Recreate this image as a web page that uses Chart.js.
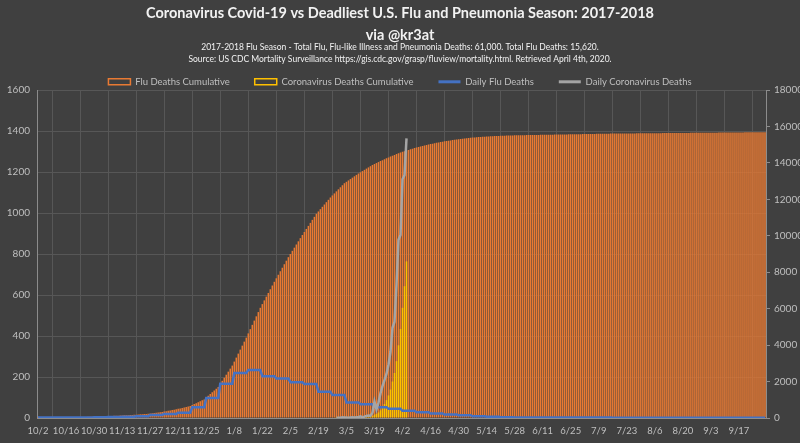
<!DOCTYPE html>
<html>
<head>
<meta charset="utf-8">
<script src="https://cdn.jsdelivr.net/npm/chart.js@4"></script>
<style>
  html, body { margin: 0; padding: 0; background: #404040; }
  #wrap { width: 800px; height: 443px; position: relative; }
</style>
</head>
<body>
<div id="wrap"><canvas id="fluChart"></canvas></div>
<script>
// Season runs 10/2/2017 to 9/30/2018, one category per day
const seasonStart = new Date(2017, 9, 2);
const numDays = 364;
const tickEvery = 14;

// Daily flu deaths, one value per week (step line)
const dailyFluByWeek = [2, 2, 3, 3, 4, 5, 6, 8,
    15, 20, 26, 52, 98, 167, 219, 234,
    204, 193, 174, 166,
    128, 112, 76, 67, 53, 45,
    35, 28, 22, 17, 14, 8, 6, 4,
    2, 2, 2, 2, 2, 2, 2, 1, 1, 1, 1, 1, 1, 1, 1, 1, 1, 1];

// Daily coronavirus deaths (2020), placed on the same calendar days, starting at the 2/28 slot
const covidStartIndex = 149;
const dailyCovid = [1, 1, 1, 4, 3, 2, 1, 3, 4, 3, 4, 4, 8, 3, 7, 10, 12, 11,
    25, 80, 42, 75, 120, 155, 185, 215, 260, 323, 440, 470, 649, 870, 893, 1165, 1185, 1364];

const labels = [];
for (let i = 0; i < numDays; i++) {
    const d = new Date(seasonStart);
    d.setDate(d.getDate() + i);
    labels.push((d.getMonth() + 1) + '/' + d.getDate());
}

// daily series and cumulative (running sum) series
const fluDaily = [];
const fluCumulative = [];
let fluTotal = 0;
for (let i = 0; i < numDays; i++) {
    const v = dailyFluByWeek[Math.floor(i / 7)];
    fluDaily.push(v);
    fluTotal += v;
    fluCumulative.push(fluTotal);
}

const covidDaily = [];
const covidCumulative = [];
let covidTotal = 0;
for (let i = 0; i < numDays; i++) {
    const k = i - covidStartIndex;
    if (k >= 0 && k < dailyCovid.length) {
        covidTotal += dailyCovid[k];
        covidDaily.push(dailyCovid[k]);
        covidCumulative.push(covidTotal);
    } else {
        covidDaily.push(null);
        covidCumulative.push(null);
    }
}

const textColor = '#bfbfbf';
const gridColor = '#575757';
const axisColor = '#8c8c8c';
const fontFamily = "'Lato', sans-serif";

const ctx = document.getElementById('fluChart').getContext('2d');
const fluChart = new Chart(ctx, {
    type: 'bar',
    data: {
        labels: labels,
        datasets: [{
            type: 'bar',
            label: 'Flu Deaths Cumulative',
            data: fluCumulative,
            yAxisID: 'y1',
            backgroundColor: '#E97A33',
            borderWidth: 0,
            barPercentage: 0.75,
            categoryPercentage: 1.0,
            grouped: false,
            order: 4
        }, {
            type: 'bar',
            label: 'Coronavirus Deaths Cumulative',
            data: covidCumulative,
            yAxisID: 'y1',
            backgroundColor: '#FFC000',
            borderWidth: 0,
            barPercentage: 0.75,
            categoryPercentage: 1.0,
            grouped: false,
            order: 3
        }, {
            type: 'line',
            label: 'Daily Flu Deaths',
            data: fluDaily,
            yAxisID: 'y',
            borderColor: '#4472C4',
            backgroundColor: '#4472C4',
            borderWidth: 2.5,
            pointRadius: 0,
            tension: 0,
            order: 2
        }, {
            type: 'line',
            label: 'Daily Coronavirus Deaths',
            data: covidDaily,
            yAxisID: 'y',
            borderColor: '#A5A5A5',
            backgroundColor: '#A5A5A5',
            borderWidth: 2.5,
            pointRadius: 0,
            tension: 0,
            order: 1
        }]
    },
    options: {
        responsive: true,
        maintainAspectRatio: false,
        animation: false,
        layout: { padding: { left: 0, right: 0, top: 0, bottom: 0 } },
        plugins: {
            title: {
                display: true,
                text: ['Coronavirus Covid-19 vs Deadliest U.S. Flu and Pneumonia Season: 2017-2018', 'via @kr3at'],
                color: '#f2f2f2',
                font: { family: fontFamily, size: 14.5, weight: 'bold', lineHeight: 1.52 },
                padding: { top: 2, bottom: -5 }
            },
            subtitle: {
                display: true,
                text: ['2017-2018 Flu Season - Total Flu, Flu-like Illness and Pneumonia Deaths: 61,000. Total Flu Deaths: 15,620.',
                    'Source: US CDC Mortality Surveillance https://gis.cdc.gov/grasp/fluview/mortality.html. Retrieved April 4th, 2020.'],
                color: '#f2f2f2',
                font: { family: fontFamily, size: 8.5, lineHeight: 1.41 },
                padding: { top: 0, bottom: -13 }
            },
            legend: {
                display: true,
                position: 'top',
                maxHeight: 38,
                labels: {
                    color: textColor,
                    font: { family: fontFamily, size: 9.5 },
                    usePointStyle: true,
                    pointStyleWidth: 22,
                    boxHeight: 6,
                    padding: 25,
                    sort: (a, b) => a.datasetIndex - b.datasetIndex,
                    generateLabels: function (chart) {
                        const items = Chart.defaults.plugins.legend.labels.generateLabels(chart);
                        items.forEach(function (item) {
                            const ds = chart.data.datasets[item.datasetIndex];
                            if (ds.type === 'bar') {
                                item.pointStyle = 'rect';
                                item.fillStyle = 'rgba(0,0,0,0)';
                                item.strokeStyle = ds.backgroundColor;
                                item.lineWidth = 1.5;
                            } else {
                                item.pointStyle = 'line';
                                item.strokeStyle = ds.borderColor;
                                item.lineWidth = 3;
                            }
                        });
                        return items;
                    }
                }
            },
            tooltip: { enabled: false }
        },
        scales: {
            x: {
                grid: {
                    color: gridColor,
                    offset: true,
                    drawTicks: false
                },
                border: { color: axisColor },
                ticks: {
                    color: textColor,
                    font: { family: fontFamily, size: 9.5 },
                    autoSkip: false,
                    maxRotation: 0,
                    minRotation: 0,
                    padding: 7,
                    callback: function (value, index) {
                        return index % tickEvery === 0 ? labels[index] : null;
                    }
                },
                afterFit: function (scale) { scale.height = 25; }
            },
            y: {
                position: 'left',
                min: 0,
                max: 1600,
                grid: { color: gridColor, drawTicks: false },
                border: { color: axisColor },
                ticks: {
                    stepSize: 200,
                    color: textColor,
                    font: { family: fontFamily, size: 10 },
                    padding: 7,
                    callback: v => String(v)
                },
                afterFit: function (scale) { scale.width = 37; }
            },
            y1: {
                position: 'right',
                min: 0,
                max: 18000,
                grid: { drawOnChartArea: false, color: axisColor, tickLength: 4 },
                border: { color: axisColor },
                ticks: {
                    stepSize: 2000,
                    color: textColor,
                    font: { family: fontFamily, size: 10 },
                    padding: 4,
                    callback: v => String(v)
                },
                afterFit: function (scale) { scale.width = 34; }
            }
        }
    }
});
</script>
</body>
</html>
